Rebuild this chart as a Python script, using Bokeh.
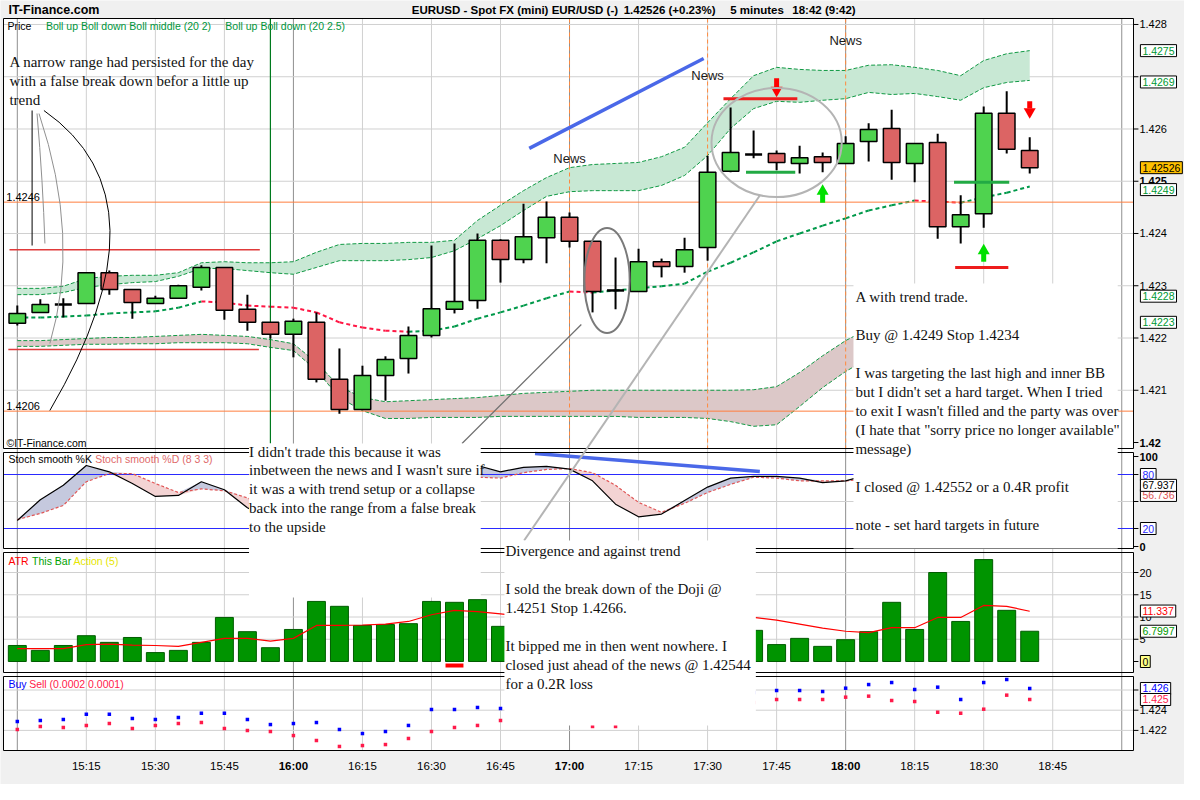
import numpy as np
from bokeh.plotting import figure
from bokeh.models import Range1d
from bokeh.core.properties import value
from bokeh.embed import file_html
from bokeh.resources import INLINE

# ---------------- data (5-minute bars, 15:00 .. 18:40) ----------------
OPEN = [1.42228, 1.42249, 1.42264, 1.42266, 1.42325, 1.42293, 1.42266, 1.42276, 1.42297, 1.42335,
        1.42255, 1.42230, 1.42207, 1.42230, 1.42121, 1.42063, 1.42128, 1.42161, 1.42205, 1.42255,
        1.42272, 1.42387, 1.42350, 1.42392, 1.42431, 1.42385, 1.42291, 1.42289, 1.42346, 1.42337,
        1.42373, 1.42519, 1.42551, 1.42553, 1.42534, 1.42547, 1.42534, 1.42576, 1.42601, 1.42534,
        1.42574, 1.42413, 1.42438, 1.42630, 1.42559]
HIGH = [1.42262, 1.42274, 1.42276, 1.42325, 1.42329, 1.42293, 1.42281, 1.42302, 1.42339, 1.42335,
        1.42283, 1.42230, 1.42237, 1.42249, 1.42180, 1.42147, 1.42165, 1.42222, 1.42377, 1.42381,
        1.42400, 1.42389, 1.42457, 1.42461, 1.42440, 1.42385, 1.42354, 1.42371, 1.42352, 1.42392,
        1.42549, 1.42641, 1.42597, 1.42559, 1.42568, 1.42555, 1.42586, 1.42611, 1.42637, 1.42572,
        1.42591, 1.42473, 1.42643, 1.42672, 1.42584]
LOW = [1.42224, 1.42249, 1.42239, 1.42266, 1.42283, 1.42237, 1.42266, 1.42276, 1.42291, 1.42235,
       1.42214, 1.42199, 1.42163, 1.42115, 1.42055, 1.42063, 1.42080, 1.42132, 1.42201, 1.42247,
       1.42256, 1.42306, 1.42343, 1.42343, 1.42373, 1.42249, 1.42255, 1.42289, 1.42316, 1.42325,
       1.42348, 1.42517, 1.42544, 1.42521, 1.42515, 1.42517, 1.42534, 1.42538, 1.42503, 1.42498,
       1.42390, 1.42381, 1.42411, 1.42553, 1.42515]
CLOSE = [1.42247, 1.42264, 1.42264, 1.42325, 1.42293, 1.42268, 1.42276, 1.42300, 1.42335, 1.42253,
         1.42230, 1.42207, 1.42232, 1.42121, 1.42063, 1.42128, 1.42159, 1.42205, 1.42256, 1.42270,
         1.42387, 1.42350, 1.42394, 1.42431, 1.42385, 1.42289, 1.42291, 1.42346, 1.42337, 1.42369,
         1.42517, 1.42555, 1.42551, 1.42536, 1.42545, 1.42536, 1.42572, 1.42599, 1.42536, 1.42572,
         1.42413, 1.42436, 1.42630, 1.42561, 1.42526]

BB_UP_25 = [1.42295, 1.42295, 1.42299, 1.42314, 1.42318, 1.42320, 1.42320, 1.42325, 1.42344, 1.42346,
            1.42344, 1.42344, 1.42346, 1.42364, 1.42379, 1.42381, 1.42381, 1.42383, 1.42383, 1.42387,
            1.42425, 1.42454, 1.42482, 1.42507, 1.42526, 1.42532, 1.42534, 1.42536, 1.42547, 1.42565,
            1.42612, 1.42658, 1.42702, 1.42718, 1.42714, 1.42712, 1.42712, 1.42722, 1.42723, 1.42718,
            1.42712, 1.42702, 1.42731, 1.42744, 1.42750]
BB_UP_20 = [1.42283, 1.42283, 1.42287, 1.42297, 1.42302, 1.42306, 1.42308, 1.42318, 1.42333, 1.42333,
            1.42329, 1.42325, 1.42322, 1.42335, 1.42348, 1.42348, 1.42348, 1.42350, 1.42354, 1.42367,
            1.42390, 1.42415, 1.42444, 1.42471, 1.42480, 1.42482, 1.42482, 1.42482, 1.42492, 1.42511,
            1.42549, 1.42601, 1.42639, 1.42653, 1.42651, 1.42655, 1.42658, 1.42670, 1.42666, 1.42668,
            1.42662, 1.42655, 1.42679, 1.42689, 1.42693]
BB_MID = [1.42239, 1.42239, 1.42241, 1.42243, 1.42247, 1.42249, 1.42251, 1.42258, 1.42270, 1.42268,
          1.42262, 1.42260, 1.42258, 1.42249, 1.42230, 1.42220, 1.42214, 1.42212, 1.42214, 1.42222,
          1.42237, 1.42249, 1.42262, 1.42276, 1.42289, 1.42287, 1.42291, 1.42295, 1.42299, 1.42304,
          1.42327, 1.42344, 1.42364, 1.42385, 1.42400, 1.42415, 1.42429, 1.42444, 1.42454, 1.42463,
          1.42461, 1.42459, 1.42469, 1.42478, 1.42490]
BB_DN_20 = [1.42195, 1.42195, 1.42197, 1.42199, 1.42201, 1.42201, 1.42203, 1.42205, 1.42207, 1.42205,
            1.42203, 1.42197, 1.42189, 1.42153, 1.42107, 1.42086, 1.42078, 1.42080, 1.42082, 1.42084,
            1.42086, 1.42090, 1.42094, 1.42096, 1.42098, 1.42100, 1.42100, 1.42100, 1.42100, 1.42100,
            1.42100, 1.42100, 1.42101, 1.42107, 1.42134, 1.42166, 1.42195, 1.42218, 1.42237, 1.42253,
            1.42249, 1.42243, 1.42262, 1.42272, 1.42279]
BB_DN_25 = [1.42184, 1.42184, 1.42186, 1.42188, 1.42188, 1.42189, 1.42189, 1.42191, 1.42191, 1.42191,
            1.42189, 1.42182, 1.42176, 1.42138, 1.42086, 1.42061, 1.42046, 1.42046, 1.42048, 1.42048,
            1.42048, 1.42050, 1.42050, 1.42050, 1.42050, 1.42050, 1.42050, 1.42048, 1.42048, 1.42048,
            1.42046, 1.42040, 1.42031, 1.42034, 1.42069, 1.42105, 1.42136, 1.42161, 1.42182, 1.42199,
            1.42193, 1.42186, 1.42209, 1.42220, 1.42230]

STOCH_K = [28.9, 52, 68, 90, 83, 70, 55.6, 56.7, 72, 63, 43,
           30, 30, 15, 5, 10, 25, 45, 65, 75, 90,
           83, 88, 89, 86, 73, 47, 33, 36, 51, 66, 76, 78, 78, 76, 71, 73,
           80, 70, 68, 45, 42, 65, 72, 67.937]
STOCH_D = [30, 36.7, 45.6, 72, 81, 81, 70, 60, 64, 62, 54,
           42, 35, 25, 17, 10, 13, 27, 45, 62, 77,
           76, 82, 85.6, 86.7, 82, 68, 49, 38, 48, 60, 69, 77, 76, 73, 73, 73,
           75, 74, 71, 60, 50, 52, 60, 56.736]

ATR_BAR = [3.6, 2.5, 3.6, 5.8, 4.3, 5.4, 2.0, 2.5, 4.3, 9.9, 6.7, 3.1, 7.2, 13.5, 12.4, 8.1, 8.3, 8.5,
           13.5, 13.3, 13.9, 7.9, 11.5, 11.9, 6.7, 13.6, 10.0, 8.2, 3.6, 6.7, 20.0, 12.4, 7.0, 3.8,
           5.2, 3.4, 4.9, 6.7, 13.3, 7.2, 20.0, 9.0, 22.9, 11.5, 6.8]
ATR_LINE = [2.9, 2.9, 2.9, 3.8, 3.9, 3.7, 3.6, 3.4, 4.3, 5.2, 5.2, 4.6, 5.2, 8.1, 8.1, 8.2, 8.4, 9.0,
            10.5, 11.5, 11.2, 10.7, 10.2, 9.9, 9.6, 9.8, 9.8, 9.5, 9.2, 9.0, 10.5, 10.2, 9.9, 9.3,
            8.4, 7.5, 6.8, 6.5, 7.6, 7.6, 9.9, 9.9, 12.6, 12.4, 11.3]
ACTION_BAR = [19]
ACTION_TOP = [-0.45]
ACTION_BOTTOM = [-1.35]

BUY = [1.42288, 1.42298, 1.42308, 1.42360, 1.42360, 1.42318, 1.42308, 1.42328, 1.42370, 1.42370,
       1.42308, 1.42258, 1.42268, 1.42278, 1.42209, 1.42169, 1.42189, 1.42249, 1.42407, 1.42407,
       1.42427, 1.42417, 1.42437, 1.42456, 1.42447, 1.42377, 1.42367, 1.42397, 1.42397, 1.42417,
       1.42526, 1.42575, 1.42575, 1.42595, 1.42595, 1.42585, 1.42618, 1.42654, 1.42674, 1.42605,
       1.42628, 1.42506, 1.42674, 1.42704, 1.42615]
SELL = [1.42209, 1.42239, 1.42229, 1.42249, 1.42268, 1.42219, 1.42249, 1.42268, 1.42278, 1.42219,
        1.42199, 1.42189, 1.42149, 1.42100, 1.42041, 1.42050, 1.42060, 1.42120, 1.42189, 1.42229,
        1.42249, 1.42298, 1.42318, 1.42338, 1.42318, 1.42239, 1.42239, 1.42278, 1.42278, 1.42298,
        1.42377, 1.42466, 1.42476, 1.42506, 1.42506, 1.42506, 1.42529, 1.42539, 1.42496, 1.42486,
        1.42380, 1.42370, 1.42410, 1.42549, 1.42506]

TIME_TICK_BARS = [3, 6, 9, 12, 15, 18, 21, 24, 27, 30, 33, 36, 39, 42, 45]
TIME_TICK_LABELS = ["15:15", "15:30", "15:45", "16:00", "16:15", "16:30", "16:45", "17:00",
                    "17:15", "17:30", "17:45", "18:00", "18:15", "18:30", "18:45"]
HOUR_BARS = [0, 12, 24, 36, 48]
PRICE_TICKS = [1.420, 1.421, 1.422, 1.423, 1.424, 1.425, 1.426, 1.427, 1.428]
PRICE_TICK_LABELS = ["1.42", "1.421", "1.422", "1.423", "1.424", "1.425", "1.426", "1.427", "1.428"]
STOCH_TICKS = [0, 20, 50, 80, 100]
ATR_TICKS = [0, 5, 10, 15, 20]
BS_TICKS = [1.422, 1.424, 1.426]

NEWS_BARS = [24, 30, 36]
NEWS_TEXT_Y = [1.42544, 1.42702, 1.42769]
LEVELS = [1.4246, 1.4206]
RANGE_LINES = dict(x0=[-0.34, -0.39], x1=[10.54, 10.5], y=[1.42369, 1.42178])
STOP_LINES = dict(x0=[30.69, 40.76], x1=[33.9, 43.07], y=[1.42658, 1.42335])
ENTRY_LINES = dict(x0=[31.67, 40.71], x1=[33.81, 43.11], y=[1.42517, 1.42498])
DOWN_ARROWS = dict(x=[33, 44], top=[1.42697, 1.42653], bot=[1.42680, 1.42639], head=[1.42674, 1.42633])
UP_ARROWS = dict(x=[35, 42], top=[1.42477, 1.42362], bot=[1.42459, 1.42346], head=[1.42481, 1.42367])
TREND_PRICE = dict(x0=22.25, y0=1.42563, x1=29.83, y1=1.42735)
TREND_STOCH = dict(x0=22.5, y0=103.3, x1=32.27, y1=83.3)

NOTE_A = ["A narrow range had persisted for the day", "with a false break down befor a little up", "trend"]
NOTE_B = ["I didn't trade this because it was", "inbetween the news and I wasn't sure if",
          "it was a with trend setup or a collapse", "back into the range from a false break",
          "to the upside"]
NOTE_C = ["Divergence and against trend", "", "I sold the break down of the Doji @",
          "1.4251 Stop 1.4266.", "", "It bipped me in then went nowhere.  I",
          "closed just ahead of the news @ 1.42544", "for a 0.2R loss"]
NOTE_D = ["A with trend trade.", "", "Buy @ 1.4249 Stop 1.4234", "",
          "I was targeting the last high and inner BB", "but I didn't set a hard target.  When I tried",
          "to exit I wasn't filled and the party was over",
          "(I hate that \"sorry price no longer available\"", "message)", "",
          "I closed @ 1.42552 or a 0.4R profit", "", "note - set hard targets in future"]

# ---------------- figure: the whole canvas is the plotting frame ----------------
x = np.arange(len(OPEN))
o, h, l, c = map(np.array, (OPEN, HIGH, LOW, CLOSE))

p = figure(width=1184, height=784, output_backend="svg", toolbar_location=None, title=None,
           x_range=Range1d(-0.7304, 50.727), y_range=Range1d(1.413455, 1.428459),
           x_axis_location=None, y_axis_location=None,
           min_border=0, background_fill_color="#f0f0f0", border_fill_color="#f0f0f0",
           outline_line_color=None)
p.grid.visible = False
# "px": layout coordinates of the original screenshot; other ranges: one per indicator pane
p.extra_x_ranges = {"px": Range1d(-0.0425, 1200.72)}
p.extra_y_ranges = {"px": Range1d(784, 0), "stoch": Range1d(-264.44, 606.67),
                    "atr": Range1d(-27.64, 148.54), "bs": Range1d(1.416644, 1.494267)}

SANS = "Liberation Sans"
SERIF = "Liberation Serif"
PANES = dict(top=[18, 452, 552, 676], bottom=[448, 548, 672, 750])
PX = dict(x_range_name="px", y_range_name="px")

# pane backgrounds
p.quad(left=[3], right=[1149], top=[18], bottom=[750], fill_color="white", line_color=None, **PX)

# grid lines
minor_bars = [b for b in range(0, 49, 3) if b not in HOUR_BARS]
p.segment(x0=minor_bars, y0=[18] * len(minor_bars), x1=minor_bars, y1=[750] * len(minor_bars),
          line_color="#d0d0d0", line_width=1, y_range_name="px")
p.segment(x0=HOUR_BARS, y0=[18] * 5, x1=HOUR_BARS, y1=[750] * 5,
          line_color="#8f8f8f", line_width=1, y_range_name="px")
for rng, ticks in [("default", PRICE_TICKS[1:]), ("stoch", [50]), ("atr", [5, 10, 15, 20]), ("bs", BS_TICKS)]:
    p.segment(x0=[3] * len(ticks), y0=ticks, x1=[1149] * len(ticks), y1=ticks, line_color="#d0d0d0",
              line_width=1, x_range_name="px", y_range_name=rng)

# ---------------- price pane ----------------
p.varea(x=x, y1=BB_UP_20, y2=BB_UP_25, fill_color="#c8e8d4")
p.varea(x=x, y1=BB_DN_25, y2=BB_DN_20, fill_color="#dcc8c8")
for band in (BB_UP_25, BB_UP_20, BB_DN_20, BB_DN_25):
    p.line(x, band, line_color="#119944", line_width=1, line_dash="4 2")
mid = np.array(BB_MID)
mid_col = np.where(mid[1:] < mid[:-1], "#ff1744", "#00994a")
p.segment(x0=x[:-1], y0=mid[:-1], x1=x[1:], y1=mid[1:], line_color=mid_col, line_width=2, line_dash="4 3")

p.segment(x0=[3, 3], y0=LEVELS, x1=[1149, 1149], y1=LEVELS, line_color="#ff7f3f", line_width=1,
          x_range_name="px")
p.text(x=[-0.48, -0.48], y=LEVELS, text=["1.4246", "1.4206"], text_font=value(SANS),
       text_font_size="11px", text_color="black", text_baseline="bottom", y_offset=-1)
p.segment(x0=RANGE_LINES["x0"], y0=RANGE_LINES["y"], x1=RANGE_LINES["x1"], y1=RANGE_LINES["y"],
          line_color="#e03a3a", line_width=1.5)
p.segment(x0=[11], y0=[18], x1=[11], y1=[443], line_color="#007a1e", line_width=1.2, y_range_name="px")
p.segment(x0=NEWS_BARS, y0=[18] * 3, x1=NEWS_BARS, y1=[448] * 3, line_color="#ff8a3d",
          line_width=1, line_dash="4 3", y_range_name="px")

# candles
up = c > o
down = c < o
doji = ~(up | down)
body = ~doji
cols = np.where(up, "#4fd34f", "#dc6464")
p.segment(x0=x, y0=l, x1=x, y1=h, line_color="black", line_width=2)
p.vbar(x=x[body], width=0.72, top=np.maximum(o, c)[body], bottom=np.minimum(o, c)[body],
       fill_color=cols[body], line_color="black", line_width=1.5)
p.scatter(x=x[doji], y=o[doji], marker="dash", size=17, line_color="black", line_width=2.5)

# ---------------- stochastic pane ----------------
K = np.array(STOCH_K)
D = np.array(STOCH_D)
p.varea(x=x, y1=D, y2=np.maximum(K, D), fill_color="#c5c9de", y_range_name="stoch")
p.varea(x=x, y1=np.minimum(K, D), y2=D, fill_color="#f3d3d3", y_range_name="stoch")
p.segment(x0=[3, 3], y0=[80, 20], x1=[1149, 1149], y1=[80, 20], line_color="#2a2aff", line_width=1.2,
          x_range_name="px", y_range_name="stoch")
p.line(x, D, line_color="#e05555", line_width=1.2, line_dash="3 2", y_range_name="stoch")
p.line(x, K, line_color="black", line_width=1.2, y_range_name="stoch")
p.segment(x0=[TREND_STOCH["x0"]], y0=[TREND_STOCH["y0"]], x1=[TREND_STOCH["x1"]], y1=[TREND_STOCH["y1"]],
          line_color="#4a68e8", line_width=3.5, y_range_name="stoch")

# ---------------- ATR pane ----------------
p.vbar(x=x, width=0.78, top=ATR_BAR, bottom=0, fill_color="#009400", line_color="#005c00",
       line_width=1, y_range_name="atr")
p.vbar(x=ACTION_BAR, width=0.78, top=ACTION_TOP, bottom=ACTION_BOTTOM, fill_color="#ff0000",
       line_color=None, y_range_name="atr")
p.line(x, ATR_LINE, line_color="#ff0000", line_width=1.2, y_range_name="atr")

# ---------------- buy / sell pane ----------------
p.scatter(x=x, y=BUY, marker="square", size=3.5, fill_color="#0000ff", line_color=None, y_range_name="bs")
p.scatter(x=x, y=SELL, marker="square", size=3.5, fill_color="#ff1a4a", line_color=None, y_range_name="bs")

# pane outlines
p.quad(left=[3] * 4, right=[1149] * 4, top=PANES["top"], bottom=PANES["bottom"], fill_color=None,
       line_color="black", line_width=1, **PX)

# ---------------- drawings on the price chart ----------------
p.segment(x0=STOP_LINES["x0"], y0=STOP_LINES["y"], x1=STOP_LINES["x1"], y1=STOP_LINES["y"],
          line_color="#ee1c1c", line_width=3)
p.segment(x0=ENTRY_LINES["x0"], y0=ENTRY_LINES["y"], x1=ENTRY_LINES["x1"], y1=ENTRY_LINES["y"],
          line_color="#22aa44", line_width=3)
p.segment(x0=DOWN_ARROWS["x"], y0=DOWN_ARROWS["top"], x1=DOWN_ARROWS["x"], y1=DOWN_ARROWS["bot"],
          line_color="#ff0000", line_width=5)
p.scatter(x=DOWN_ARROWS["x"], y=DOWN_ARROWS["head"], marker="inverted_triangle", size=12,
          fill_color="#ff0000", line_color=None)
p.segment(x0=UP_ARROWS["x"], y0=UP_ARROWS["top"], x1=UP_ARROWS["x"], y1=UP_ARROWS["bot"],
          line_color="#00e000", line_width=5)
p.scatter(x=UP_ARROWS["x"], y=UP_ARROWS["head"], marker="triangle", size=12,
          fill_color="#00e000", line_color=None)
p.segment(x0=[TREND_PRICE["x0"]], y0=[TREND_PRICE["y0"]], x1=[TREND_PRICE["x1"]], y1=[TREND_PRICE["y1"]],
          line_color="#4a68e8", line_width=3.5)
p.ellipse(x=[25.63], y=[1.42310], width=1.97, height=0.00201, fill_color=None,
          line_color="#7a7a7a", line_width=2)
p.ellipse(x=[33.0], y=[1.42574], width=5.66, height=0.002086, fill_color=None,
          line_color="#b4b4b4", line_width=2)
p.text(x=NEWS_BARS, y=NEWS_TEXT_Y, text=["News"] * 3, text_font=value(SANS), text_font_size="13px",
       text_color="#1a1a1a", text_align="center", text_baseline="middle")


def ptext(xs, ys, texts, size="10.5px", color="black", font=SANS, style="normal", align="left"):
    p.text(x=xs, y=ys, text=texts, text_font=value(font), text_font_size=size, text_color=color,
           text_baseline="middle", text_align=align, text_font_style=style, **PX)


# pane legends
ptext([7], [25], ["Price"])
ptext([46, 228], [25, 25], ["Boll up Boll down Boll middle (20 2)", "Boll up Boll down (20 2.5)"], color="#00963c")
ptext([6], [442], ["\u00a9IT-Finance.com"])
ptext([8], [458], ["Stoch smooth %K"])
ptext([96], [458], ["Stoch smooth %D (8 3 3)"], color="#e06a6a")
ptext([8], [560], ["ATR"], color="#ff0000")
ptext([32], [560], ["This Bar"], color="#00a000")
ptext([74], [560], ["Action (5)"], color="#e6e600")
ptext([8], [683], ["Buy"], color="#0000ff")
ptext([29], [683], ["Sell (0.0002 0.0001)"], color="#ff1a4a")

# callout lines
p.segment(x0=[32], y0=[110], x1=[32], y1=[245], line_color="black", line_width=1, **PX)
p.quadratic(x0=[37, 39], y0=[113, 113], x1=[45, 50], y1=[243, 343], cx=[43, 81.5], cy=[182, 238],
            line_color="#909090", line_width=1, **PX)
p.quadratic(x0=[44], y0=[110], x1=[50], y1=[410], cx=[175], cy=[200],
            line_color="black", line_width=1, **PX)
p.segment(x0=[468], y0=[443], x1=[589], y1=[324], line_color="#707070", line_width=1.2, **PX)
p.segment(x0=[531], y0=[540], x1=[770], y1=[195], line_color="#b4b4b4", line_width=2, **PX)

# note boxes
p.quad(left=[252, 511, 865], right=[487, 766, 1133], top=[443, 540, 283], bottom=[597, 725, 548],
       fill_color="white", line_color=None, **PX)


def note(lines, x0, y0, step=19.0):
    ys = [y0 + k * step for k in range(len(lines))]
    ptext([x0] * len(lines), ys, lines, size="15px", color="#111111", font=SERIF)


note(NOTE_A, 9, 61)
note(NOTE_B, 252, 451, 18.8)
note(NOTE_C, 512, 550)
note(NOTE_D, 867, 296)

# ---------------- right-hand scales ----------------
for rng, ticks in [("default", PRICE_TICKS), ("stoch", STOCH_TICKS), ("atr", ATR_TICKS), ("bs", BS_TICKS)]:
    p.segment(x0=[1149] * len(ticks), y0=ticks, x1=[1154] * len(ticks), y1=ticks, line_color="black",
              line_width=1, x_range_name="px", y_range_name=rng)


def rtext(ys, texts, rng="default", color="black", bold=False, fill=None, xpos=1155):
    kw = dict(x=[xpos] * len(ys), y=ys, text=texts, x_range_name="px", y_range_name=rng,
              text_font=value(SANS), text_font_size="11px" if fill is None else "10.5px",
              text_color=color, text_baseline="middle", text_align="left",
              text_font_style="bold" if bold else "normal")
    if fill is not None:
        kw.update(background_fill_color=fill, border_line_color="black", padding=2)
    p.text(**kw)


norm = [i for i, t in enumerate(PRICE_TICKS) if t not in (1.420, 1.425, 1.427)]
rtext([PRICE_TICKS[i] for i in norm], [PRICE_TICK_LABELS[i] for i in norm])
rtext([1.420, 1.425], ["1.42", "1.425"], bold=True)
G = "#009933"
rtext([1.4275, 1.4269, 1.42484, 1.4228, 1.4223], ["1.4275", "1.4269", "1.4249", "1.4228", "1.4223"],
      color=G, fill="white", xpos=1156)
rtext([1.42526], ["1.42526"], fill="#ffc000", xpos=1156)

rtext([100, 0], ["100", "0"], rng="stoch", bold=True)
rtext([80, 20], ["80", "20"], rng="stoch", color="#2a2aff", fill="white", xpos=1156)
rtext([56.736], ["56.736"], rng="stoch", color="#e05555", fill="white", xpos=1156)
rtext([67.937], ["67.937"], rng="stoch", fill="white", xpos=1156)

rtext([20, 15, 10, 5], ["20", "15", "10", "5"], rng="atr")
rtext([11.337], ["11.337"], rng="atr", color="#ff0000", fill="white", xpos=1156)
rtext([6.7997], ["6.7997"], rng="atr", color="#009900", fill="white", xpos=1156)
rtext([0], ["0"], rng="atr", fill="#ffff88", xpos=1156)

rtext([1.424, 1.422], ["1.424", "1.422"], rng="bs")
rtext([1.42615], ["1.426"], rng="bs", color="#0000ff", fill="white", xpos=1156)
rtext([1.42506], ["1.425"], rng="bs", color="#ff1a4a", fill="white", xpos=1156)

# time scale
p.text(x=TIME_TICK_BARS, y=[765] * len(TIME_TICK_BARS), text=TIME_TICK_LABELS,
       text_font=value(SANS), text_font_size="11.5px", text_color="black",
       text_font_style=["bold" if b in HOUR_BARS else "normal" for b in TIME_TICK_BARS],
       text_align="center", text_baseline="middle", y_range_name="px")

# header
ptext([8], [9], ["IT-Finance.com"], size="12.5px", style="bold")
ptext([417, 632, 740, 803], [9] * 4,
      ["EURUSD - Spot FX (mini) EUR/USD (-)", "1.42526 (+0.23%)", "5 minutes", "18:42 (9:42)"],
      size="11.5px", style="bold")

open("out.html", "w").write(file_html(p, INLINE))
